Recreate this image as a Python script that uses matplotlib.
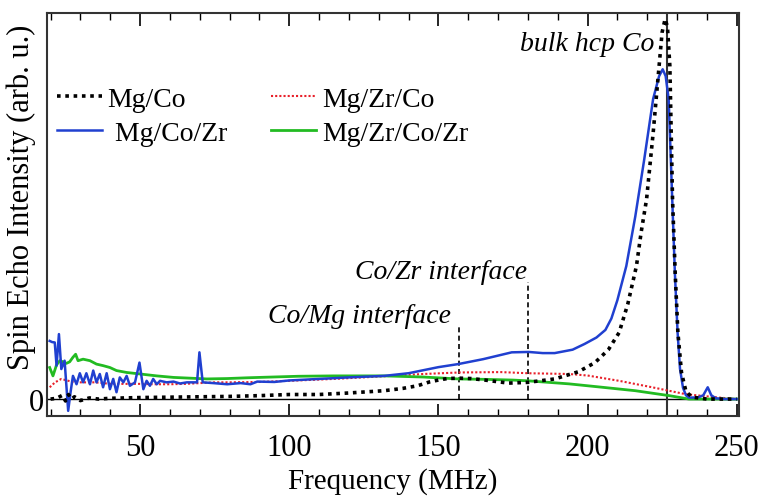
import matplotlib
matplotlib.use("Agg")
import matplotlib.pyplot as plt
import numpy as np

plt.rcParams['font.family'] = ['Liberation Serif', 'DejaVu Serif']

# Mg/Co (black dotted)
f_mgco = [20, 22, 24, 25, 26, 27, 28, 30, 33, 36, 40, 50, 60, 70, 80, 90, 100, 110, 120,
          131.8, 138, 143, 147, 150, 153, 157, 161, 165.6, 173.5, 180, 189, 197, 202.5,
          207, 210.6, 213.5, 216.4, 218, 219.8, 222, 224, 225, 226, 226.8, 227.6, 228.5,
          229.4, 230.3, 231.5, 233, 235, 240, 250]
i_mgco = [0.0, 0.002, 0.01, -0.005, 0.012, 0.0, 0.006, -0.004, 0.003, 0.0, 0.002, 0.004,
          0.005, 0.006, 0.007, 0.009, 0.012, 0.012, 0.016, 0.022, 0.028, 0.035, 0.045,
          0.05, 0.054, 0.055, 0.054, 0.05, 0.042, 0.044, 0.053, 0.072, 0.096, 0.13, 0.175,
          0.25, 0.35, 0.44, 0.526, 0.70, 0.877, 0.965, 1.0, 0.98, 0.877, 0.526, 0.33,
          0.175, 0.07, 0.02, 0.005, 0.0, 0.0]

# Mg/Zr/Co (red dotted)
f_mgzrco = [19.7, 21.5, 23.6, 26, 28, 30, 35, 40, 45, 50, 55, 60, 65, 70, 75, 80, 90, 100,
            115, 131.8, 145, 157, 171, 180, 193.8, 200, 210.6, 221.7, 232.8, 244, 250]
i_mgzrco = [0.031, 0.044, 0.053, 0.048, 0.044, 0.044, 0.044, 0.040, 0.040, 0.040, 0.039,
            0.039, 0.040, 0.042, 0.044, 0.044, 0.045, 0.048, 0.053, 0.060, 0.066, 0.070,
            0.071, 0.068, 0.066, 0.062, 0.048, 0.031, 0.013, 0.004, 0.0]

# Mg/Co/Zr (blue)
f_mgcozr = [19.7, 20.5, 21.4, 22.0, 22.8, 23.6, 24.7, 25.9, 26.7, 27.5, 28.7, 29.8, 30.9,
            32.0, 33.2, 34.3, 35.4, 36.5, 37.6, 38.8, 39.9, 41.0, 42.1, 43.2, 44.4, 45.5,
            46.6, 48.3, 49.8, 51.1, 52.2, 53.3, 54.4, 55.6, 56.7, 58.9, 61.2, 63.4, 65.7,
            69.1, 69.9, 71.0, 74.6, 79.2, 83.7, 87, 89.3, 95, 100, 110, 120, 131.8, 140,
            150, 156.6, 165, 174.6, 180.3, 185, 189, 195, 199, 203, 206, 208, 210, 213,
            216, 219, 222, 224, 225.2, 226.2, 227.2, 228.4, 229.3, 230.2, 231.0, 232.0,
            233, 234, 237, 238.8, 240.3, 241.5, 243, 246, 250]
i_mgcozr = [0.153, 0.150, 0.149, 0.088, 0.171, 0.079, 0.101, -0.031, 0.018, 0.061, 0.039,
            0.068, 0.044, 0.068, 0.039, 0.075, 0.044, 0.066, 0.031, 0.068, 0.026, 0.053,
            0.018, 0.057, 0.044, 0.061, 0.035, 0.044, 0.096, 0.026, 0.048, 0.035, 0.053,
            0.039, 0.048, 0.044, 0.046, 0.041, 0.044, 0.044, 0.123, 0.044, 0.042, 0.039,
            0.042, 0.039, 0.046, 0.045, 0.049, 0.053, 0.057, 0.061, 0.068, 0.084, 0.092,
            0.105, 0.123, 0.124, 0.121, 0.121, 0.130, 0.145, 0.162, 0.182, 0.212, 0.26,
            0.35, 0.48, 0.63, 0.79, 0.85, 0.868, 0.85, 0.79, 0.526, 0.33, 0.175, 0.08,
            0.03, 0.01, 0.004, 0.004, 0.010, 0.031, 0.010, 0.002, 0.0, 0.0]

# Mg/Zr/Co/Zr (green)
f_mgzrcozr = [19.7, 20.8, 22, 23.1, 24.2, 25.3, 26.4, 27.5, 28.4, 29.2, 30.9, 33.2, 35.4,
              37.6, 39.9, 42.1, 45.5, 50, 55.6, 61.2, 66.8, 72.4, 79.2, 85.9, 90, 103, 115,
              131.8, 145, 156.6, 165, 175, 180, 193.8, 205, 216, 227.4, 234, 250]
i_mgzrcozr = [0.083, 0.061, 0.090, 0.101, 0.098, 0.094, 0.098, 0.110, 0.118, 0.101, 0.105,
              0.101, 0.092, 0.088, 0.083, 0.075, 0.070, 0.066, 0.061, 0.057, 0.055, 0.053,
              0.054, 0.056, 0.057, 0.060, 0.061, 0.061, 0.058, 0.053, 0.052, 0.050, 0.048,
              0.040, 0.031, 0.022, 0.009, 0.0, 0.0]

bulk_f = 226.5
interfaces = [(157, 0.192, "Co/Mg interface", 154.4, 0.203),
              (180, 0.308, "Co/Zr interface", 179.6, 0.318)]

fig = plt.figure(figsize=(7.58, 5.02), dpi=100)
ax = fig.add_axes([0.062, 0.169, 0.913, 0.803])

ax.axhline(0, color='black', lw=1.0, zorder=1)
ax.axvline(bulk_f, color='#333333', lw=1.5, zorder=1)
for fx, top, txt, tx, ty in interfaces:
    ax.plot([fx, fx], [0, top], color='black', lw=1.2, ls=(0, (3, 2)), zorder=1)
    ax.text(tx, ty, txt, ha='right', va='baseline', style='italic', fontsize=20)
ax.text(222.4, 0.92, "bulk hcp Co", ha='right', va='baseline', style='italic', fontsize=20)

l1, = ax.plot(f_mgco, i_mgco, color='black', lw=2.6, ls=(0, (1, 1.3)), zorder=4)
l3, = ax.plot(f_mgzrco, i_mgzrco, color='#e8202a', lw=1.5, ls=(0, (1, 1)), zorder=2)
l2, = ax.plot(f_mgcozr, i_mgcozr, color='#2040d0', lw=1.8, zorder=3)
l4, = ax.plot(f_mgzrcozr, i_mgzrcozr, color='#22bb22', lw=2.0, zorder=2)

ax.legend([l1, l2, l3, l4], ["Mg/Co", " Mg/Co/Zr", "Mg/Zr/Co", "Mg/Zr/Co/Zr"],
          ncol=2, loc='upper left', bbox_to_anchor=(0.0145, 0.818), frameon=False,
          borderpad=0, borderaxespad=0,
          fontsize=20, handlelength=1.62, handletextpad=0.2, columnspacing=1.6,
          labelspacing=0.3)

ax.set_xlim(18.8, 250.8)
ax.set_ylim(-0.045, 1.016)
ax.set_xticks([50, 100, 150, 200, 250])
ax.set_xticks(np.arange(20, 251, 10), minor=True)
ax.set_yticks([0])
ax.tick_params(axis='x', which='both', direction='in', top=True, labelsize=22, pad=12)
ax.tick_params(axis='x', which='major', length=9, width=1.2)
ax.tick_params(axis='x', which='minor', length=5, width=1.0)
ax.tick_params(axis='y', direction='in', length=0, labelsize=22, pad=2)
for s in ax.spines.values():
    s.set_linewidth(1.5)
    s.set_color('#333333')

ax.set_xlabel("Frequency (MHz)", fontsize=21, labelpad=4)
ax.set_ylabel("Spin Echo Intensity (arb. u.)", fontsize=22)
ax.yaxis.set_label_coords(-0.016, 0.546)

fig.savefig("out.png", dpi=100)
